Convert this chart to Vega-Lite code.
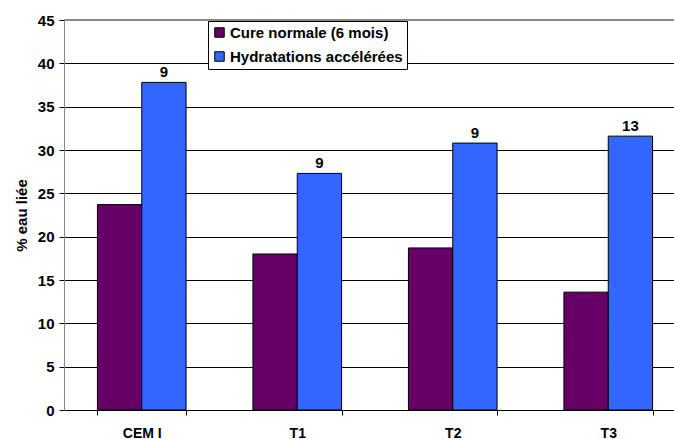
{
  "$schema": "https://vega.github.io/schema/vega-lite/v6.json",
  "autosize": "none",
  "width": 622,
  "height": 390,
  "padding": {"left": 64, "top": 20, "right": 0, "bottom": 29},
  "background": "white",
  "config": {
    "font": "Liberation Sans",
    "view": {"stroke": null},
    "axisY": {"titleFontSize": 15, "titleFontWeight": "bold", "titleColor": "black", "titleFont": "Liberation Sans"}
  },
  "data": {
    "values": [
      {"ciment": "CEM I", "serie": "Cure normale (6 mois)", "valeur": 23.7, "label": ""},
      {"ciment": "CEM I", "serie": "Hydratations accélérées", "valeur": 37.8, "label": "9"},
      {"ciment": "T1", "serie": "Cure normale (6 mois)", "valeur": 18.0, "label": ""},
      {"ciment": "T1", "serie": "Hydratations accélérées", "valeur": 27.3, "label": "9"},
      {"ciment": "T2", "serie": "Cure normale (6 mois)", "valeur": 18.7, "label": ""},
      {"ciment": "T2", "serie": "Hydratations accélérées", "valeur": 30.8, "label": "9"},
      {"ciment": "T3", "serie": "Cure normale (6 mois)", "valeur": 13.6, "label": ""},
      {"ciment": "T3", "serie": "Hydratations accélérées", "valeur": 31.6, "label": "13"}
    ]
  },
  "encoding": {
    "x": {
      "field": "ciment",
      "type": "nominal",
      "sort": null,
      "scale": {"paddingInner": 0.43, "paddingOuter": 0.215},
      "axis": {
        "title": null,
        "labelAngle": 0,
        "labelFont": "Liberation Sans",
        "labelFontWeight": "bold",
        "labelFontSize": 14,
        "labelColor": "black",
        "labelPadding": 11,
        "tickBand": "extent",
        "tickColor": "black",
        "tickSize": 5,
        "domainColor": "black",
        "grid": false
      }
    },
    "xOffset": {"field": "serie", "type": "nominal", "sort": null},
    "y": {
      "field": "valeur",
      "type": "quantitative",
      "scale": {"domain": [0, 45], "nice": false},
      "axis": {
        "title": "% eau liée",
        "titleFontSize": 15,
        "titlePadding": 8,
        "values": [0, 5, 10, 15, 20, 25, 30, 35, 40, 45],
        "labelFont": "Liberation Sans",
        "labelFontWeight": "bold",
        "labelFontSize": 15,
        "labelColor": "black",
        "labelPadding": 5,
        "tickColor": "black",
        "tickSize": 5,
        "domainColor": "#888888",
        "gridColor": "black",
        "gridOpacity": 1,
        "gridWidth": 1
      }
    }
  },
  "layer": [
    {
      "mark": {"type": "bar", "stroke": "black", "strokeWidth": 1},
      "encoding": {
        "color": {
          "field": "serie",
          "type": "nominal",
          "sort": null,
          "scale": {"range": ["#660066", "#3366FF"]},
          "legend": {
            "title": null,
            "orient": "none",
            "legendX": 144,
            "legendY": 1,
            "direction": "vertical",
            "symbolType": "square",
            "symbolSize": 90,
            "symbolStrokeColor": "black",
            "symbolStrokeWidth": 1,
            "labelFont": "Liberation Sans",
            "labelFontWeight": "bold",
            "labelFontSize": 15,
            "labelLimit": 400,
            "labelColor": "black",
            "labelOffset": 3,
            "rowPadding": 8,
            "padding": 4,
            "strokeColor": "black",
            "fillColor": "white"
          }
        }
      }
    },
    {
      "mark": {"type": "rule", "color": "#888888", "strokeWidth": 2},
      "encoding": {"y": {"datum": 45}, "x": null, "xOffset": null}
    },
    {
      "mark": {"type": "text", "baseline": "bottom", "dy": -2, "fontWeight": "bold", "fontSize": 15, "font": "Liberation Sans", "color": "black"},
      "encoding": {"text": {"field": "label"}}
    }
  ]
}
